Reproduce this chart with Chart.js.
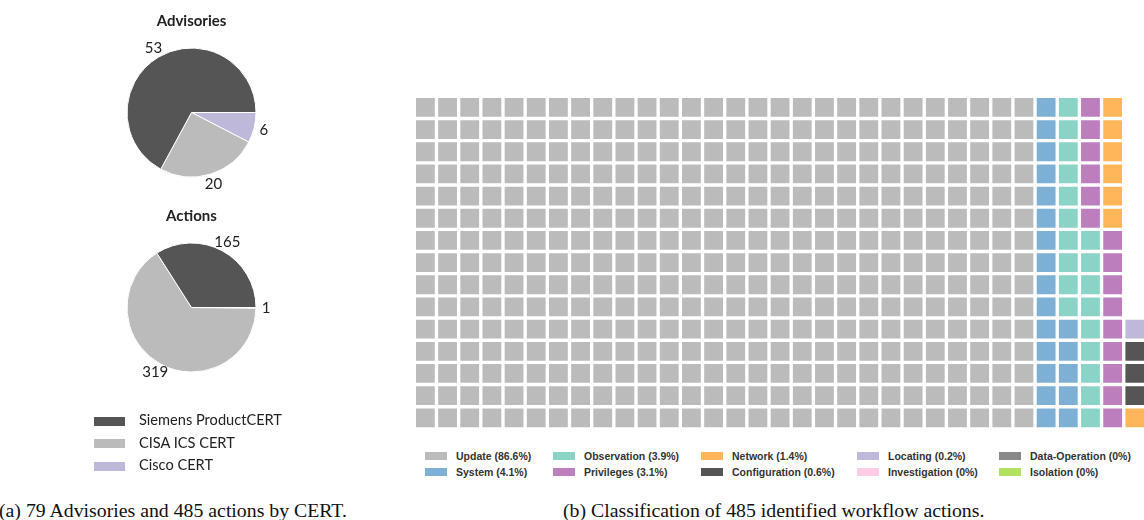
<!DOCTYPE html>
<html>
<head>
<meta charset="utf-8">
<script src="https://cdn.jsdelivr.net/npm/chart.js@4/dist/chart.umd.min.js"></script>
<style>
  html, body { margin: 0; padding: 0; width: 1144px; height: 520px; overflow: hidden; background: #fff; }
  canvas { position: absolute; }
  .cap { position: absolute; top: 501px; font-family: "Liberation Serif", "Times New Roman", serif; font-size: 19.8px; line-height: 19px; color: #111; white-space: nowrap; }
  .lg { position: absolute; white-space: nowrap; }
  .lg i { position: absolute; display: block; }
  .lg span { position: absolute; display: block; }
  .pl { font-family: Lato, "DejaVu Sans", sans-serif; font-size: 14.6px; color: #222; line-height: 18px; }
  .wl { font-family: "Liberation Sans", Arial, sans-serif; font-weight: bold; font-size: 10.5px; color: #333; line-height: 12px; }
</style>
</head>
<body>
<canvas id="pieAdv" style="left:81px;top:0px;width:221px;height:225px" width="221" height="225"></canvas>
<canvas id="pieAct" style="left:81px;top:195px;width:221px;height:225px" width="221" height="225"></canvas>
<canvas id="waffle" style="left:0px;top:0px;width:1146px;height:440px" width="1146" height="440"></canvas>
<div id="pieLegend"></div>
<div id="waffleLegend"></div>
<div class="cap" style="left:-1px">(a) 79 Advisories and 485 actions by CERT.</div>
<div class="cap" style="left:563px">(b) Classification of 485 identified workflow actions.</div>

<script>
// ---- CERT sources ----
const certNames = ['Siemens ProductCERT', 'CISA ICS CERT', 'Cisco CERT'];
const certColors = ['#555555', '#bbbbbb', '#beb9db'];
const advisoryCounts = [53, 20, 6];
const actionCounts = [165, 319, 1];

// ---- workflow action classes ----
const actionClasses = ['Update', 'System', 'Observation', 'Privileges', 'Network',
  'Configuration', 'Locating', 'Investigation', 'Data-Operation', 'Isolation'];
const classCounts = [420, 20, 19, 15, 7, 3, 1, 0, 0, 0];
const classColors = ['#bbbbbb', '#7eb0d5', '#8bd3c7', '#bd7ebe', '#ffb55a',
  '#555555', '#beb9db', '#fdcce5', '#888888', '#b2e061'];
const waffleRows = 15;

const SANS = 'Lato, "DejaVu Sans", sans-serif';

// Title above each pie and counts just outside each slice
const pieText = {
  id: 'pieText',
  afterDraw(chart, args, opts) {
    const ctx = chart.ctx;
    const arcs = chart.getDatasetMeta(0).data;
    const vals = chart.data.datasets[0].data;
    ctx.save();
    const cx = arcs[0].x, cy = arcs[0].y, r = arcs[0].outerRadius;
    ctx.fillStyle = '#222';
    ctx.textAlign = 'center';
    ctx.textBaseline = 'middle';
    ctx.font = 'bold 15px ' + SANS;
    ctx.fillText(opts.title, cx, cy - 91.5);
    ctx.font = '15px ' + SANS;
    arcs.forEach((a, i) => {
      const mid = (a.startAngle + a.endAngle) / 2;
      ctx.fillText(String(vals[i]), cx + Math.cos(mid) * r * 1.155, cy + Math.sin(mid) * r * 1.155);
    });
    ctx.restore();
  }
};

function makePie(id, title, counts) {
  // drawn clockwise from 3 o'clock, so the order is reversed to run counter-clockwise
  return new Chart(document.getElementById(id), {
    type: 'pie',
    data: {
      labels: certNames.slice().reverse(),
      datasets: [{
        data: counts.slice().reverse(),
        backgroundColor: certColors.slice().reverse(),
        borderColor: '#ffffff',
        borderWidth: 1,
        radius: 64.5,
        rotation: 90,
        hoverOffset: 0,
        offset: 0
      }]
    },
    options: {
      responsive: false,
      animation: false,
      events: [],
      radius: 64.5,
      rotation: 90,
      layout: { padding: 0 },
      plugins: { legend: { display: false }, tooltip: { enabled: false }, pieText: { title: title } }
    },
    plugins: [pieText]
  });
}

makePie('pieAdv', 'Advisories', advisoryCounts);
makePie('pieAct', 'Actions', actionCounts);

// ---- waffle: one square per action, filled column by column from the bottom ----
const totalActions = classCounts.reduce((s, v) => s + v, 0);
const waffleCols = Math.ceil(totalActions / waffleRows);
let cell = 0;
const waffleSets = actionClasses.map((name, k) => {
  const pts = [];
  for (let j = 0; j < classCounts[k]; j++, cell++) {
    pts.push({ x: Math.floor(cell / waffleRows), y: cell % waffleRows });
  }
  return {
    label: name,
    data: pts,
    backgroundColor: classColors[k],
    borderWidth: 0,
    pointStyle: 'rect',
    pointRadius: 13.3,
    pointHoverRadius: 13.3
  };
});

const fixRange = (lo, hi) => s => { s.min = lo; s.max = hi; };

new Chart(document.getElementById('waffle'), {
  type: 'scatter',
  data: { datasets: waffleSets },
  options: {
    responsive: false,
    animation: false,
    events: [],
    layout: { autoPadding: false, padding: { left: 414.3, right: 0.1, top: 96.3, bottom: 11.1 } },
    scales: {
      x: { type: 'linear', bounds: 'data', min: -0.5, max: waffleCols - 0.5, display: false,
           afterBuildTicks: fixRange(-0.5, waffleCols - 0.5) },
      y: { type: 'linear', bounds: 'data', min: -0.5, max: waffleRows - 0.5, display: false,
           afterBuildTicks: fixRange(-0.5, waffleRows - 0.5) }
    },
    plugins: { legend: { display: false }, tooltip: { enabled: false } }
  }
});

// ---- legends ----
const pieLegend = document.getElementById('pieLegend');
certNames.forEach((name, i) => {
  const y = 421 + i * 22.5;
  const d = document.createElement('div');
  d.className = 'lg pl';
  d.style.left = '0px'; d.style.top = '0px';
  d.innerHTML = `<i style="left:94px;top:${y - 4.5}px;width:31px;height:9px;background:${certColors[i]}"></i>` +
    `<span style="left:139px;top:${y - 10}px">${name}</span>`;
  pieLegend.appendChild(d);
});

const shareText = c => {
  const p = c / totalActions * 100;
  return p === 0 ? '0%' : p.toFixed(1) + '%';
};
const legendColX = [425, 553, 701, 857, 999];
const waffleLegend = document.getElementById('waffleLegend');
actionClasses.forEach((name, k) => {
  const col = Math.floor(k / 2), row = k % 2;
  const x = legendColX[col], y = 456 + row * 16;
  const d = document.createElement('div');
  d.className = 'lg wl';
  d.style.left = '0px'; d.style.top = '0px';
  d.innerHTML = `<i style="left:${x}px;top:${y - 4}px;width:22px;height:8px;background:${classColors[k]}"></i>` +
    `<span style="left:${x + 31}px;top:${y - 6.5}px">${name} (${shareText(classCounts[k])})</span>`;
  waffleLegend.appendChild(d);
});
</script>
</body>
</html>
